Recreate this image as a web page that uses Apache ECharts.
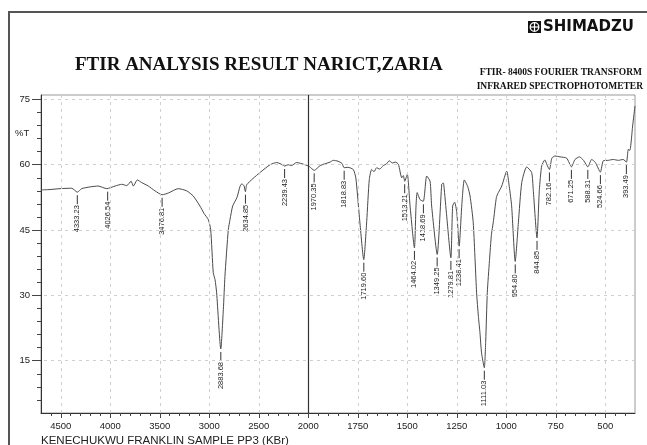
<!DOCTYPE html>
<html>
<head>
<meta charset="utf-8">
<script src="https://cdn.jsdelivr.net/npm/echarts@6/dist/echarts.min.js"></script>
<style>
html,body{margin:0;padding:0;background:#fff;}
#chart{width:647px;height:445px;}
</style>
</head>
<body>
<div id="chart"></div>
<script>
// spectrum (wavenumber cm-1 / %T)
var wavenumbers = [4700, 4610, 4508, 4390, 4333, 4289, 4205, 4122, 4036, 3952, 3884, 3834, 3790, 3767, 3727, 3683, 3616, 3549, 3477, 3413, 3314, 3228, 3162, 3094, 3053, 3010, 2986, 2960, 2942, 2926, 2884, 2858, 2842, 2808, 2790, 2764, 2720, 2690, 2672, 2650, 2635, 2622, 2560, 2488, 2386, 2319, 2253, 2239, 2203, 2170, 2118, 2034, 1995, 1970, 1940, 1890, 1874, 1850, 1830, 1819, 1800, 1773, 1760, 1740, 1720, 1705, 1692, 1680, 1668, 1655, 1640, 1621, 1605, 1591, 1575, 1560, 1545, 1528, 1520, 1513, 1500, 1486, 1464, 1456, 1450, 1436, 1419, 1402, 1385, 1377, 1349, 1326, 1318, 1315, 1301, 1280, 1271, 1261, 1250, 1238, 1225, 1212, 1195, 1183, 1167, 1150, 1141, 1133, 1125, 1111, 1104, 1096, 1085, 1075, 1066, 1050, 1040, 1023, 998, 985, 973, 955, 939, 922, 897, 872, 864, 845, 833, 821, 805, 795, 782, 770, 754, 729, 695, 671, 653, 631, 610, 588, 569, 550, 525, 510, 485, 460, 434, 410, 393, 384, 376, 362, 350];
var transmittance = [54.2, 54.3, 54.5, 54.6, 53.7, 54.5, 54.9, 55.1, 54.5, 55.1, 55.5, 55.2, 56.2, 55.1, 56.5, 55.9, 55.1, 54.0, 53.1, 53.5, 54.5, 54.0, 52.8, 50.5, 48.8, 47.4, 45.1, 35.2, 33.6, 30.6, 17.7, 26.8, 34.4, 45.1, 47.5, 50.5, 52.5, 55.0, 55.6, 55.2, 53.8, 55.4, 56.8, 58.2, 60.0, 60.5, 59.9, 59.7, 60.0, 59.8, 60.5, 60.0, 59.6, 58.7, 59.8, 60.6, 61.0, 60.8, 60.3, 59.3, 59.4, 58.9, 57.0, 47.0, 38.2, 47.0, 56.6, 58.9, 58.4, 59.3, 59.0, 59.8, 60.2, 60.9, 60.4, 60.6, 60.1, 57.0, 57.5, 56.2, 57.8, 50.5, 40.9, 50.5, 53.6, 52.0, 51.6, 57.4, 56.2, 50.5, 39.4, 55.5, 55.8, 55.1, 48.2, 38.6, 50.5, 51.4, 49.0, 41.3, 50.5, 56.5, 55.0, 52.8, 46.7, 30.6, 25.2, 21.4, 16.8, 13.4, 19.5, 30.6, 38.0, 44.0, 46.7, 52.5, 53.6, 55.1, 58.5, 55.0, 50.5, 37.8, 46.7, 55.9, 59.5, 58.2, 54.3, 43.2, 54.3, 59.8, 61.1, 60.0, 58.9, 61.5, 62.0, 61.8, 61.5, 59.5, 61.2, 61.8, 61.0, 59.5, 61.2, 60.5, 58.3, 60.9, 61.0, 61.2, 61.0, 61.2, 60.6, 63.5, 63.3, 68.9, 73.5];

// labelled peaks
var peakWn = [4333.23, 4026.54, 3476.81, 2883.68, 2634.85, 2239.43, 1970.35, 1818.83, 1719.60, 1513.21, 1464.02, 1418.69, 1349.25, 1279.81, 1238.41, 1111.03, 954.80, 844.85, 782.16, 671.25, 588.31, 524.66, 393.49];
var peakT = [53.7, 54.5, 53.1, 17.7, 53.8, 59.7, 58.7, 59.3, 38.2, 56.2, 40.9, 51.6, 39.4, 38.6, 41.3, 13.4, 37.8, 43.2, 58.9, 59.5, 59.5, 58.3, 60.6];

// axis ticks (wavenumber labels, %T labels)
var xLabels = [4500, 4000, 3500, 3000, 2500, 2000, 1750, 1500, 1250, 1000, 750, 500];
var yLabels = [15, 30, 45, 60, 75];

// the recorder halves the scale above 2000 cm-1
function tx(w){ return w > 2000 ? 2000 + (w - 2000) / 2 : w; }
function untx(v){ return v > 2000 ? 2000 + (v - 2000) * 2 : v; }

var minorX = [];
for (var v = 400; v <= 3300; v += 50) minorX.push(v);
var minorY = [];
for (var k = 6; k <= 75; k += 3) minorY.push(k);
var majorX = xLabels.map(tx);

var lineData = wavenumbers.map(function(w, i){ return [tx(w), transmittance[i]]; });
var peakData = peakWn.map(function(w, i){ return [tx(w), peakT[i], w]; });

var gridLines = [];
majorX.forEach(function(x){
    if (x === 2000) {
        gridLines.push({xAxis: x, lineStyle: {type: 'solid', color: '#333', width: 1.2}});
    } else {
        gridLines.push({xAxis: x});
    }
});
yLabels.forEach(function(y){ gridLines.push({yAxis: y}); });

var font = '"Liberation Sans", Arial, sans-serif';
var serif = '"Liberation Serif", "Times New Roman", serif';

var myChart = echarts.init(document.getElementById('chart'));
var option = {
    animation: false,
    backgroundColor: '#fff',
    grid: {
        left: 41, right: 12, top: 95, bottom: 32,
        show: true, borderColor: '#999', borderWidth: 1
    },
    xAxis: [
        {
            type: 'value', inverse: true, min: 350, max: 3350,
            axisLine: {show: true, lineStyle: {color: '#333'}},
            axisTick: {show: true, customValues: minorX, length: 3, lineStyle: {color: '#444'}},
            axisLabel: {customValues: majorX, margin: 8, color: '#222', fontFamily: font, fontSize: 9.5,
                formatter: function(v){ return untx(v); }},
            splitLine: {show: false}
        },
        {
            type: 'value', inverse: true, min: 350, max: 3350, position: 'bottom',
            axisLine: {show: false},
            axisTick: {show: true, customValues: majorX, length: 5, lineStyle: {color: '#444'}},
            axisLabel: {show: false},
            splitLine: {show: false}
        }
    ],
    yAxis: [
        {
            type: 'value', min: 3, max: 76,
            axisLine: {show: true, lineStyle: {color: '#333'}},
            axisTick: {show: true, customValues: minorY, length: 4, lineStyle: {color: '#444'}},
            axisLabel: {customValues: yLabels, margin: 11, color: '#222', fontFamily: font, fontSize: 9.5},
            splitLine: {show: false}
        },
        {
            type: 'value', min: 3, max: 76, position: 'left',
            axisLine: {show: false},
            axisTick: {show: true, customValues: yLabels, length: 9, lineStyle: {color: '#444'}},
            axisLabel: {show: false},
            splitLine: {show: false}
        }
    ],
    graphic: [
        {type: 'polyline', shape: {points: [[9, 445], [9, 12], [647, 12]]}, style: {stroke: '#555', lineWidth: 2, fill: null}},
        {type: 'rect', shape: {x: 528, y: 21, width: 13, height: 12}, style: {fill: '#111'}},
        {type: 'circle', shape: {cx: 534.5, cy: 27, r: 4.3}, style: {stroke: '#fff', lineWidth: 1.3, fill: null}},
        {type: 'line', shape: {x1: 534.5, y1: 22.7, x2: 534.5, y2: 31.3}, style: {stroke: '#fff', lineWidth: 1.2}},
        {type: 'line', shape: {x1: 530.2, y1: 27, x2: 538.8, y2: 27}, style: {stroke: '#fff', lineWidth: 1.2}},
        {type: 'text', x: 543, y: 27, style: {text: 'SHIMADZU', font: 'bold 15px "DejaVu Sans", sans-serif', fill: '#111', verticalAlign: 'middle'}},
        {type: 'text', x: 75, y: 65, style: {text: 'FTIR ANALYSIS RESULT NARICT,ZARIA', font: 'bold 19px ' + serif, fill: '#111', verticalAlign: 'middle'}},
        {type: 'text', x: 642, y: 73, style: {text: 'FTIR- 8400S FOURIER TRANSFORM', font: 'bold 9.5px ' + serif, fill: '#111', align: 'right', verticalAlign: 'middle'}},
        {type: 'text', x: 643, y: 87, style: {text: 'INFRARED SPECTROPHOTOMETER', font: 'bold 9.5px ' + serif, fill: '#111', align: 'right', verticalAlign: 'middle'}},
        {type: 'text', x: 15, y: 133, style: {text: '%T', font: '9.5px ' + font, fill: '#222', verticalAlign: 'middle'}},
        {type: 'text', x: 41, y: 435, style: {text: 'KENECHUKWU FRANKLIN SAMPLE PP3 (KBr)', font: '11.5px ' + font, fill: '#222', verticalAlign: 'top'}}
    ],
    series: [
        {
            name: '%T',
            type: 'line',
            xAxisIndex: 0, yAxisIndex: 0,
            smooth: 0.2,
            showSymbol: false,
            symbol: 'none',
            lineStyle: {color: '#4a4a4a', width: 1},
            data: lineData,
            markLine: {
                silent: true,
                symbol: 'none',
                label: {show: false},
                lineStyle: {type: [3, 4], color: '#cfcfcf', width: 1},
                data: gridLines
            }
        },
        {
            name: 'peaks',
            type: 'custom',
            xAxisIndex: 0, yAxisIndex: 0,
            data: peakData,
            renderItem: function(params, api){
                var p = api.coord([api.value(0), api.value(1)]);
                var w = api.value(2);
                return {
                    type: 'group',
                    children: [
                        {type: 'line', shape: {x1: p[0], y1: p[1] + 3, x2: p[0], y2: p[1] + 12},
                            style: {stroke: '#333', lineWidth: 1}},
                        {type: 'text', x: p[0], y: p[1] + 13, rotation: Math.PI / 2,
                            style: {text: w.toFixed(2), font: '7.5px ' + font, fill: '#222',
                                align: 'right', verticalAlign: 'middle'}}
                    ]
                };
            }
        }
    ]
};
myChart.setOption(option, true);
</script>
</body>
</html>
